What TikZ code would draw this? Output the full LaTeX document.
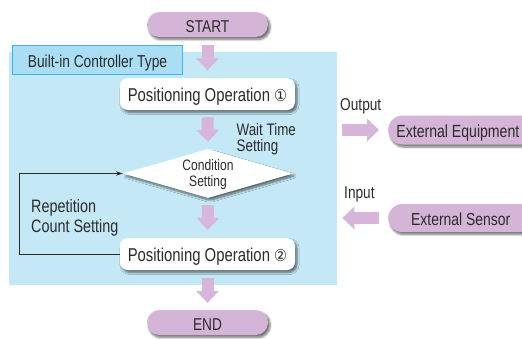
\documentclass[tikz,border=0pt]{standalone}
\usepackage{fontspec}
\setmainfont{Liberation Sans}[FakeStretch=0.8]
\newfontfamily\symf{DejaVu Sans}[FakeStretch=0.88]
\usetikzlibrary{shapes.geometric,shapes.misc,shadows,shadows.blur,arrows.meta}
\definecolor{pillc}{HTML}{D4B5D8}
\definecolor{barrow}{HTML}{D8B6DC}
\definecolor{panelbg}{HTML}{C5E8F7}
\definecolor{tabfill}{HTML}{A9DEF5}
\definecolor{tabedge}{HTML}{3DB5E6}
\definecolor{ink}{HTML}{2B2B2B}
\begin{document}
\begin{tikzpicture}[x=1pt,y=-1pt,
  every node/.style={text=ink, inner sep=0pt},
  shad/.style={blur shadow={shadow xshift=2pt,shadow yshift=-2.5pt,shadow blur steps=6,shadow opacity=55,shadow blur extra rounding=2pt}},
  pillbox/.style={rounded rectangle, fill=pillc, shad, minimum height=25pt,
    text height=15pt, text depth=0pt, font=\fontsize{17.1}{18}\selectfont},
  opbox/.style={rectangle, rounded corners=8pt, fill=white, shad,
    minimum width=175pt, minimum height=32pt,
    text height=14.5pt, text depth=0pt, font=\fontsize{18.6}{20}\selectfont},
  blockarrow/.style={draw=barrow, line width=12pt,
    -{Triangle[width=23pt,length=12pt,line width=0pt,fill=barrow]}},
  lbl/.style={align=left},
]
\useasboundingbox (0,0) rectangle (522,338);
\clip (0,0) rectangle (522,338);

% panel and tab
\node[fill=panelbg, minimum width=328pt, minimum height=233pt, anchor=north west] (panel) at (9,52) {};
\node[fill=tabfill, draw=tabedge, line width=0.8pt, minimum width=170pt, minimum height=29pt,
  text height=15pt, text depth=0pt, font=\fontsize{17.2}{18}\selectfont] (tab) at (97.5,59.5) {Built-in Controller Type};

% main column
\node[pillbox, minimum width=121pt] (start) at (207.5,24.5) {START};
\node[opbox] (pos1) at (207.5,94) {Positioning Operation {\symf\fontsize{16.5}{18}\selectfont ①}};
\node[diamond, fill=white, shad, minimum width=170pt, minimum height=49pt] (cond) at (208,173.5) {};
\node[align=center, anchor=north, font=\fontsize{15.1}{16}\selectfont] (condtxt) at (208,159.5) {Condition\\Setting};
\node[opbox] (pos2) at (207.5,254) {Positioning Operation {\symf\fontsize{16.5}{18}\selectfont ②}};
\node[pillbox, minimum width=121pt] (end) at (207.5,322.5) {END};

\draw[blockarrow] ([yshift=-7.5pt]start.south) -- ([yshift=7.5pt]pos1.north);
\draw[blockarrow] ([yshift=-7pt]pos1.south) -- ([yshift=7pt]cond.north);
\draw[blockarrow] ([yshift=-7pt]cond.south) -- ([yshift=8pt]pos2.north);
\draw[blockarrow] ([yshift=-8pt]pos2.south) -- ([yshift=7pt]end.north);

% labels
\node[lbl, anchor=north west, font=\fontsize{16.7}{15.5}\selectfont] (wait) at (236.5,123.5) {Wait Time\\Setting};
\node[lbl, anchor=north west, font=\fontsize{18}{20.5}\selectfont] (rep) at (31,199) {Repetition\\Count Setting};

% loop
\coordinate (loopc) at (19,254);
\draw[line width=0.8pt, draw=ink, -{Stealth[length=7pt,width=4.5pt]}] (pos2.west) -- (loopc) |- (cond.west);

% external devices
\node[pillbox, minimum width=150pt, minimum height=29pt, anchor=west] (exteq) at (388,130) {};
\node[anchor=base east, font=\fontsize{17.6}{19}\selectfont] (exteqtxt) at (519.5,137) {External Equipment};
\node[pillbox, minimum width=145pt, minimum height=28pt, font=\fontsize{17.4}{19}\selectfont, text height=14pt, anchor=west] (extsen) at (388,218) {External Sensor};

\draw[blockarrow] ([xshift=5pt]panel.east |- exteq.west) -- ([xshift=-9pt]exteq.west);
\draw[blockarrow] ([xshift=-9pt]extsen.west) -- ([xshift=5pt]panel.east |- extsen.west);

\node[anchor=base west, font=\fontsize{17.1}{18}\selectfont] (outl) at (340,110.5) {Output};
\node[anchor=base west, font=\fontsize{17.1}{18}\selectfont] (inl) at (344,198) {Input};
\end{tikzpicture}
\end{document}
